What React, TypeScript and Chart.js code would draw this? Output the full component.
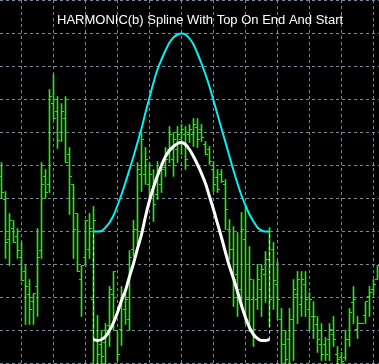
import React, { useEffect, useRef } from "react";
import { Chart, registerables } from "chart.js";

Chart.register(...registerables);

const TITLE = "HARMONIC(b) Spline With Top On End And Start";

// OHLC bars (bar index 0..94), price units
const barHigh = [
  201, 172, 150, 143, 135, 121, 98, 84, 70, 135,
  201, 194, 274, 289, 267, 260, 267, 216, 179, 150,
  98, 143, 150, 157, 48, 33, 40, 77, 92, 33,
  77, 70, 113, 143, 201, 231, 216, 201, 194, 202,
  201, 216, 237, 231, 237, 239, 237, 239, 245, 245,
  239, 222, 217, 202, 194, 194, 184, 144, 137, 131,
  151, 157, 117, 84, 99, 99, 112, 136, 121, 102,
  55, 33, 55, 84, 92, 92, 92, 71, 62, 47,
  40, 26, 40, 47, 17, 11, 33, 55, 77, 47,
  40.5, 62, 77, 84, 98,
];
const barLow = [
  165, 105, 98, 121, 105, 83, 39, 39, 39, 47,
  105, 165, 171, 244, 215, 222, 201, 149, 105, 92,
  47, 98, 105, -4, -4, -4, -4, 17, 33, 3,
  18, 39, 33, 107, 119, 172, 179, 164, 142, 164,
  171, 187, 201, 187, 201, 209, 194, 221, 217, 216,
  222, 209, 199, 172, 171, 181, 134, 104, 57, 47,
  57, 39, 32, 17, 54, 47, 61, 37, 54, 44,
  -4, -4, -4, 3, 40, 47, 47, 33, 25, 11,
  3, 3, 3, 17, -4, -4, 3, 17, 40, 25,
  40, 40, 47, 69, 84,
];
const barOpen = [
  187, 164, 124, 135, 127, 106, 92, 69, 62, 77,
  113, 187, 179, 260, 252, 231, 245, 209, 179, 150,
  84, 106, 114, 64, 24, 19, 21, 38, 69, 33,
  34, 54, 44, 114, 134, 189, 189, 179, 174, 169,
  179, 196, 214, 204, 214, 224, 229, 229, 229, 236,
  234, 219, 214, 194, 186, 189, 179, 134, 114, 89,
  74, 124, 64, 64, 64, 74, 89, 104, 114, 79,
  44, 19, 24, 44, 69, 59, 79, 54, 47, 39,
  19, 19, 24, 29, 9, 6, 6, 24, 61, 34,
  40, 48, 67, 74, 84,
];
const barClose = [
  171, 121, 143, 121, 113, 83, 77, 54, 70, 106,
  179, 171, 267, 245, 223, 252, 201, 187, 134, 92,
  98, 143, 135, 143, 9, 7, 33, 74, 92, 9,
  69, 64, 106, 134, 194, 224, 204, 189, 159, 189,
  194, 204, 229, 224, 229, 234, 204, 234, 239, 224,
  226, 209, 202, 179, 174, 182, 154, 114, 84, 64,
  134, 64, 84, 34, 84, 94, 104, 64, 83, 64,
  19, 4, 44, 74, 84, 84, 64, 64, 47, 24,
  9, 9, 34, 24, 4, 2, 24, 51, 64, 40,
  40, 62, 71, 79, 98,
];

// Harmonic splines, starting at bar index 23
const splineStart = 23;
const cyanSpline = [
  132, 132, 132.5, 136, 141, 148, 158, 169, 181, 194,
  207, 221, 235, 251, 266, 281, 294, 304, 313, 321,
  326, 329, 330, 329, 325, 319, 310, 300, 289, 277,
  263, 249, 235, 221, 207, 193, 180, 168, 158, 149,
  142, 136, 133, 132, 132,
];
const whiteSpline = [
  24, 23, 24, 27, 33, 41, 51, 63, 73, 87,
  100, 115, 129, 147, 163, 176, 188, 198, 207, 213,
  217, 220, 221, 219, 214, 207, 199, 190, 180, 167,
  154, 140, 126, 111, 97, 85, 72, 58, 46, 36,
  29, 25, 23, 23, 24,
];

const xGridBars = [5, 13, 21, 29, 37, 45, 53, 61, 69, 77, 85, 93];

const GREEN = "#33dd22";
const GRID = "#778899";

const titlePlugin = {
  id: "mtTitle",
  afterDraw(chart: any) {
    const ctx = chart.ctx;
    ctx.save();
    ctx.font = '13px "Liberation Sans", Arial, sans-serif';
    ctx.fillStyle = "#ffffff";
    ctx.textAlign = "left";
    ctx.textBaseline = "alphabetic";
    ctx.fillText(TITLE, 57, 24);
    ctx.restore();
  },
};

const bgPlugin = {
  id: "mtBackground",
  beforeDraw(chart: any) {
    const ctx = chart.ctx;
    ctx.save();
    ctx.fillStyle = "#000000";
    ctx.fillRect(0, 0, chart.width, chart.height);
    ctx.restore();
  },
};

export default function App() {
  const ref = useRef<HTMLCanvasElement | null>(null);

  useEffect(() => {
    if (!ref.current) return;
    const toXY = (arr: number[]) => arr.map((v, k) => ({ x: splineStart + k, y: v }));
    const endIdx = splineStart + cyanSpline.length - 1;

    const chart = new Chart(ref.current, {
      type: "bar",
      data: {
        datasets: [
          {
            type: "line",
            data: toXY(whiteSpline),
            borderColor: "#ffffff",
            borderWidth: 3,
            pointRadius: 0,
            cubicInterpolationMode: "monotone",
            order: 0,
          } as any,
          {
            type: "line",
            data: toXY(cyanSpline),
            borderColor: "#00f2f2",
            borderWidth: 2,
            pointRadius: 0,
            cubicInterpolationMode: "monotone",
            order: 1,
          } as any,
          {
            type: "line",
            data: [
              { x: splineStart, y: whiteSpline[0] },
              { x: splineStart, y: cyanSpline[0] },
            ],
            borderColor: "#ffff00",
            borderWidth: 1,
            borderDash: [3, 3],
            pointRadius: 0,
            order: 2,
          } as any,
          {
            type: "line",
            data: [
              { x: endIdx, y: whiteSpline[whiteSpline.length - 1] },
              { x: endIdx, y: cyanSpline[cyanSpline.length - 1] },
            ],
            borderColor: "#ffff00",
            borderWidth: 1,
            borderDash: [3, 3],
            pointRadius: 0,
            order: 2,
          } as any,
          {
            type: "line",
            data: barOpen.map((v, i) => ({ x: i - 0.375, y: v })),
            showLine: false,
            pointStyle: "line",
            pointRadius: 1,
            pointBorderWidth: 1,
            pointBorderColor: GREEN,
            pointBackgroundColor: GREEN,
            order: 3,
          } as any,
          {
            type: "line",
            data: barClose.map((v, i) => ({ x: i + 0.375, y: v })),
            showLine: false,
            pointStyle: "line",
            pointRadius: 1,
            pointBorderWidth: 1,
            pointBorderColor: GREEN,
            pointBackgroundColor: GREEN,
            order: 3,
          } as any,
          {
            type: "bar",
            data: barHigh.map((h, i) => ({ x: i, y: [barLow[i], h] })),
            backgroundColor: GREEN,
            borderWidth: 0,
            barThickness: 1,
            grouped: false,
            order: 4,
          } as any,
        ],
      },
      options: {
        responsive: false,
        animation: false,
        devicePixelRatio: 1,
        events: [],
        layout: { padding: 0, autoPadding: false },
        plugins: {
          legend: { display: false },
          tooltip: { enabled: false },
          title: { display: false },
        },
        scales: {
          x: {
            type: "linear",
            min: -0.375,
            max: 94.375,
            offset: false,
            afterBuildTicks: (scale: any) => {
              scale.ticks = xGridBars.map((v) => ({ value: v }));
            },
            afterFit: (scale: any) => {
              scale.height = 0;
            },
            ticks: { display: false },
            border: { display: false, dash: [3, 3] },
            grid: {
              offset: false,
              color: GRID,
              lineWidth: 1,
              drawTicks: false,
              tickLength: 0,
            },
          },
          y: {
            type: "linear",
            min: -0.5,
            max: 363.5,
            afterBuildTicks: (scale: any) => {
              const t = [];
              for (let v = 0; v <= 363; v += 33) t.push({ value: v });
              scale.ticks = t;
            },
            afterFit: (scale: any) => {
              scale.width = 0;
            },
            ticks: { display: false },
            border: { display: false, dash: [3, 3] },
            grid: {
              color: GRID,
              lineWidth: 1,
              drawTicks: false,
              tickLength: 0,
            },
          },
        },
      } as any,
      plugins: [bgPlugin, titlePlugin],
    });
    return () => chart.destroy();
  }, []);

  return (
    <div style={{ position: "fixed", left: 0, top: 0, width: 379, height: 364, background: "#000" }}>
      <canvas ref={ref} width={379} height={364} style={{ display: "block" }} />
    </div>
  );
}
